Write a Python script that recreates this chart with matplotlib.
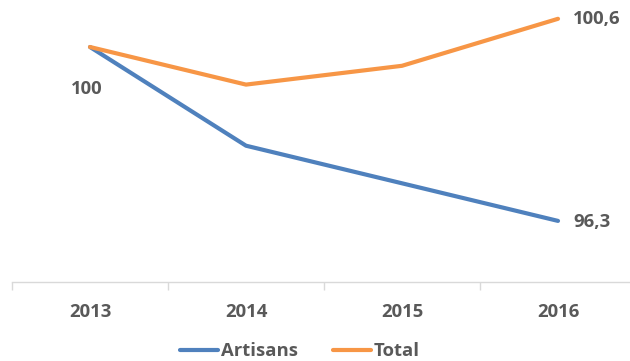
import matplotlib
matplotlib.use("Agg")
import matplotlib.pyplot as plt

years = ["2013", "2014", "2015", "2016"]
artisans = [100, 97.9, 97.1, 96.3]
total = [100, 99.2, 99.6, 100.6]

BLUE = "#4F81BD"
ORANGE = "#F79646"
TXT = "#595959"
GRID = "#D9D9D9"
FS = 13.3

plt.rcParams['font.family'] = ['Open Sans', 'DejaVu Sans']

fig = plt.figure(figsize=(6.3, 3.61), dpi=100)
ax = fig.add_axes([12/630, 1 - 282/361, 624/630, 282/361])

x = list(range(len(years)))
ax.plot(x, artisans, color=BLUE, lw=3.0, solid_capstyle='round', label="Artisans")
ax.plot(x, total, color=ORANGE, lw=3.0, solid_capstyle='round', label="Total")

ax.set_xlim(-0.5, 3.5)
ax.set_ylim(95, 101)
ax.set_yticks([])
for s in ['top', 'right', 'left']:
    ax.spines[s].set_visible(False)
ax.spines['bottom'].set_color(GRID)
ax.spines['bottom'].set_linewidth(1.0)

ax.set_xticks(x)
ax.set_xticklabels(years, fontsize=FS, fontweight='bold', color=TXT)
ax.tick_params(axis='x', which='major', length=0, pad=15)
ax.set_xticks([-0.5, 0.5, 1.5, 2.5, 3.5], minor=True)
ax.tick_params(axis='x', which='minor', length=6, color=GRID, width=1.0)

lab = dict(fontsize=FS, fontweight='bold', color=TXT, textcoords='offset points')
ax.annotate("100", (0, total[0]), xytext=(-2, -30), ha='center', va='center', **lab)
ax.annotate("100,6", (3, total[3]), xytext=(11, 0), ha='left', va='center', **lab)
ax.annotate("96,3", (3, artisans[3]), xytext=(11, -1), ha='left', va='center', **lab)

leg = fig.legend(loc='center', bbox_to_anchor=(300/630, 1 - 351/361), ncol=2,
                 frameon=False, handlelength=2.05, handletextpad=0.15,
                 columnspacing=1.9, borderpad=0.2,
                 prop={'size': FS, 'weight': 'bold'})
for t in leg.get_texts():
    t.set_color(TXT)

fig.savefig("out.png", dpi=100)
